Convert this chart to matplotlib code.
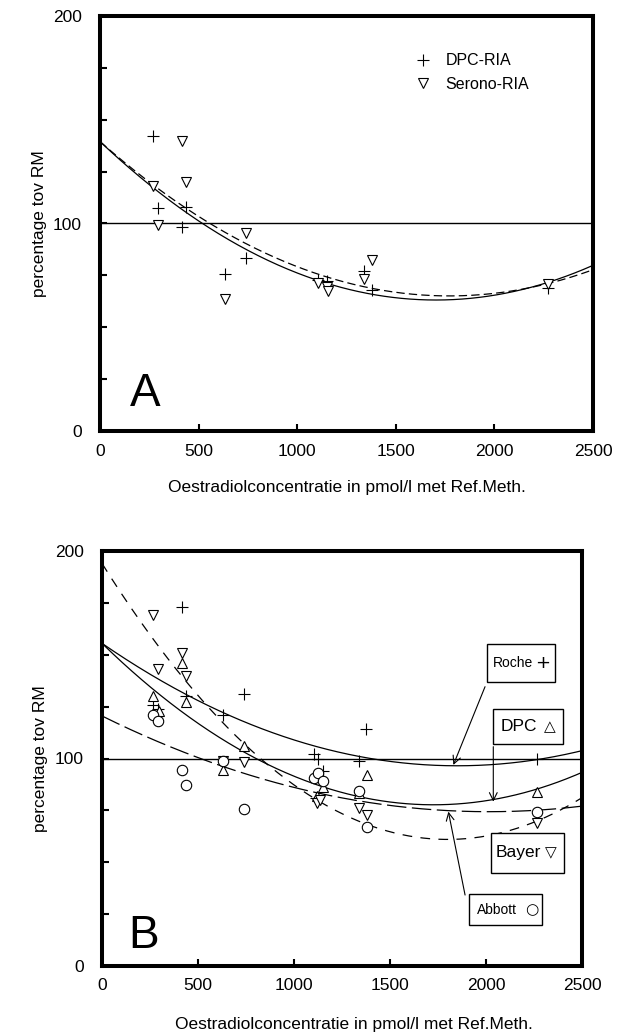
import numpy as np
import matplotlib
matplotlib.use("Agg")
import matplotlib.pyplot as plt
from matplotlib.patches import Rectangle

plt.rcParams['font.family'] = ['Liberation Sans', 'DejaVu Sans']
plt.rcParams['lines.scale_dashes'] = False

# ---------------- data: panel A ----------------
a_dpc_x = [270, 295, 415, 437, 635, 740, 1105, 1150, 1340, 1380, 2270]
a_dpc_y = [142.3, 107.3, 98.2, 108.1, 75.7, 83.2, 72.8, 72.5, 77.0, 67.8, 68.8]
a_ser_x = [270, 295, 415, 437, 635, 740, 1105, 1150, 1155, 1340, 1380, 2270]
a_ser_y = [118.1, 99.3, 140.0, 120.2, 63.5, 95.3, 71.3, 69.5, 67.6, 73.3, 82.4, 70.8]
# quadratic regression coefficients (a + b x + c x^2)
a_curve_dpc = [139.5, -0.08967, 2.632e-5]
a_curve_ser = [139.5, -0.084028, 2.3725e-5]

# ---------------- data: panel B ----------------
b_roche_x = [267, 293, 415, 437, 632, 740, 1106, 1115, 1127, 1149, 1340, 1375, 2264]
b_roche_y = [126, 124, 173, 130, 121, 131, 102, 81, 100, 94, 99, 114, 100]
b_dpc_x = [267, 297, 415, 437, 632, 740, 1118, 1149, 1340, 1378, 2264]
b_dpc_y = [130, 123, 146, 127, 94.5, 106, 82, 86.5, 83.5, 92, 84]
b_bayer_x = [267, 293, 415, 437, 632, 740, 1118, 1135, 1340, 1378, 2264]
b_bayer_y = [169, 143, 151, 140, 99, 98.5, 78.5, 80, 76, 73, 69]
b_abbott_x = [267, 293, 415, 437, 632, 740, 1106, 1127, 1149, 1340, 1378, 2267]
b_abbott_y = [121, 118, 94.5, 87, 99, 75.5, 90.5, 93, 89, 84.5, 67, 74]
b_curve_roche = [155.5, -0.06379, 1.724e-5]
b_curve_dpc = [155.5, -0.090128, 2.61e-5]
b_curve_bayer = [194.0, -0.14778, 4.105e-5]
b_curve_abbott = [120.5, -0.045796, 1.1365e-5]

x_ticks = [0, 500, 1000, 1500, 2000, 2500]
y_ticks = [0, 25, 50, 75, 100, 125, 150, 175, 200]
y_ticklabels = ['0', '', '', '', '100', '', '', '', '200']
xlabel = 'Oestradiolconcentratie in pmol/l met Ref.Meth.'
ylabel = 'percentage tov RM'

xs = np.linspace(0, 2500, 400)
def curve(c):
    return np.polynomial.polynomial.polyval(xs, c)

fig = plt.figure(figsize=(6.19, 10.34), dpi=100)
axA = fig.add_axes([100/619, (1034-431)/1034, 493/619, 415/1034])
axB = fig.add_axes([102/619, (1034-966)/1034, 480/619, 415/1034])

def style(ax, xl_y, xl_x=0.5, yl_x=-0.122):
    ax.set_xlim(0, 2500)
    ax.set_ylim(0, 200)
    ax.set_xticks(x_ticks)
    ax.set_xticklabels([str(t) for t in x_ticks])
    ax.set_yticks(y_ticks)
    ax.set_yticklabels(y_ticklabels)
    for s in ax.spines.values():
        s.set_linewidth(2.9)
    ax.tick_params(direction='in', length=5, width=1.5, labelsize=12.5)
    ax.tick_params(axis='x', pad=9)
    ax.tick_params(axis='y', pad=13)
    ax.axhline(100, color='black', lw=1.0, zorder=1)
    ax.set_xlabel(xlabel, fontsize=12.5, va='center')
    ax.xaxis.set_label_coords(xl_x, xl_y)
    ax.set_ylabel(ylabel, fontsize=12.5, va='center')
    ax.yaxis.set_label_coords(yl_x, 0.5)

# ---------------- panel A ----------------
style(axA, -0.137)
axA.plot(xs, curve(a_curve_dpc), color='black', lw=0.9)
axA.plot(xs, curve(a_curve_ser), color='black', lw=0.9, dashes=(6, 3))
mk = dict(linestyle='none', color='black', mfc='white', mew=0.8)
hA1, = axA.plot(a_dpc_x, a_dpc_y, marker='+', ms=9, label='DPC-RIA', **mk)
hA2, = axA.plot(a_ser_x, a_ser_y, marker='v', ms=7.5, label='Serono-RIA', **mk)
axA.legend(handles=[hA1, hA2], loc='upper left', bbox_to_anchor=(0.61, 0.945),
           frameon=False, fontsize=11.5, handlelength=1.0, handletextpad=0.9,
           labelspacing=0.55)
axA.text(150, 12, 'A', fontsize=33, ha='left', va='baseline')

# ---------------- panel B ----------------
style(axB, -0.142, xl_x=0.525, yl_x=-0.129)
axB.plot(xs, curve(b_curve_roche), color='black', lw=0.9)
axB.plot(xs, curve(b_curve_dpc), color='black', lw=0.9)
axB.plot(xs, curve(b_curve_bayer), color='black', lw=0.9, dashes=(7, 6))
axB.plot(xs, curve(b_curve_abbott), color='black', lw=0.9, dashes=(14, 4))
axB.plot(b_roche_x, b_roche_y, marker='+', ms=9, **mk)
axB.plot(b_dpc_x, b_dpc_y, marker='^', ms=7.5, **mk)
axB.plot(b_bayer_x, b_bayer_y, marker='v', ms=7.5, **mk)
axB.plot(b_abbott_x, b_abbott_y, marker='o', ms=7.5, **mk)
axB.text(135, 8.7, 'B', fontsize=33, ha='left', va='baseline')

# label boxes: (name, symbol, box extent, name x, symbol x, fontsize, symbol fontsize)
boxes = [
    ('Roche', '+', (2007, 2361, 136.7, 155.2), 2036, 2297, 10, 13),
    ('DPC', '\u25b3', (2038, 2402, 107.0, 123.7), 2075, 2330, 12.5, 11),
    ('Bayer', '\u25bd', (2024, 2406, 45.0, 64.2), 2052, 2340, 12.5, 11),
    ('Abbott', '\u25cb', (1910, 2292, 19.8, 34.6), 1951, 2240, 10, 11),
]
for name, sym, (x0, x1, y0, y1), nx, sx, fs, sfs in boxes:
    axB.add_patch(Rectangle((x0, y0), x1 - x0, y1 - y0, fc='white', ec='black',
                            lw=1.0, zorder=5))
    yc = (y0 + y1) / 2
    axB.text(nx, yc, name, fontsize=fs, ha='left', va='center', zorder=6)
    axB.text(sx, yc, sym, fontsize=sfs, ha='center', va='center', zorder=6,
             family=['DejaVu Sans'])

arrows = [((1995, 134.6), (1830, 96.9)),
          ((2038, 105.7), (2038, 79.2)),
          ((1891, 34.2), (1804, 74.4))]
for start, end in arrows:
    axB.annotate('', xy=end, xytext=start,
                 arrowprops=dict(arrowstyle='->', lw=0.8, color='black',
                                 mutation_scale=14, shrinkA=0, shrinkB=0))

fig.savefig('out.png', dpi=100)
